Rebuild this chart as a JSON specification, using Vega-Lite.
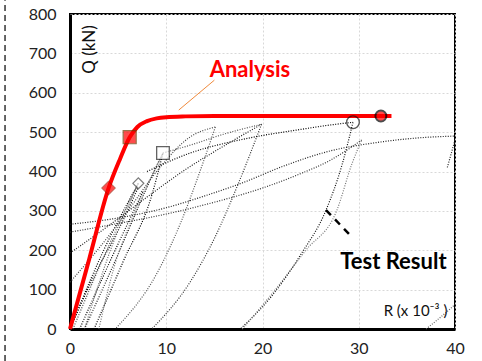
{
  "$schema": "https://vega.github.io/schema/vega-lite/v6.json",
  "autosize": "none",
  "width": 385,
  "height": 315,
  "padding": {"left": 70, "top": 14, "right": 27, "bottom": 32},
  "background": "white",
  "config": {
    "view": {"stroke": "black", "strokeWidth": 2},
    "font": "Lato"
  },
  "datasets": {
    "analysis": [
      {"x": 0, "y": 0}, {"x": 2, "y": 178}, {"x": 4, "y": 357}, {"x": 5.2, "y": 432}, {"x": 6.2, "y": 487},
      {"x": 7, "y": 513}, {"x": 8, "y": 528}, {"x": 9, "y": 535}, {"x": 10, "y": 538}, {"x": 12, "y": 540},
      {"x": 15, "y": 541}, {"x": 20, "y": 541}, {"x": 33.4, "y": 541}
    ],
    "tests": [
      {"s": "L1", "i": 0, "x": 0, "y": 0}, {"s": "L1", "i": 1, "x": 3.5, "y": 200}, {"s": "L1", "i": 2, "x": 7.1, "y": 370},
      {"s": "L2", "i": 0, "x": 0.3, "y": 0}, {"s": "L2", "i": 1, "x": 4, "y": 210}, {"s": "L2", "i": 2, "x": 7.1, "y": 370},
      {"s": "L3", "i": 0, "x": 0, "y": 0}, {"s": "L3", "i": 1, "x": 2.6, "y": 140}, {"s": "L3", "i": 2, "x": 5, "y": 250}, {"s": "L3", "i": 3, "x": 7.1, "y": 360},
      {"s": "L4", "i": 0, "x": 7.1, "y": 370}, {"s": "L4", "i": 1, "x": 4.2, "y": 200}, {"s": "L4", "i": 2, "x": 1.5, "y": 0},
      {"s": "L5", "i": 0, "x": 1, "y": 0}, {"s": "L5", "i": 1, "x": 4.5, "y": 190}, {"s": "L5", "i": 2, "x": 7.6, "y": 350},
      {"s": "L6", "i": 0, "x": 1.5, "y": 0}, {"s": "L6", "i": 1, "x": 5, "y": 190}, {"s": "L6", "i": 2, "x": 8, "y": 360}, {"s": "L6", "i": 3, "x": 9.66, "y": 447},
      {"s": "L7", "i": 0, "x": 9.66, "y": 447}, {"s": "L7", "i": 1, "x": 7, "y": 310}, {"s": "L7", "i": 2, "x": 4.5, "y": 150}, {"s": "L7", "i": 3, "x": 3, "y": 0},
      {"s": "L8", "i": 0, "x": 2.5, "y": 0}, {"s": "L8", "i": 1, "x": 5.5, "y": 170}, {"s": "L8", "i": 2, "x": 8.5, "y": 340}, {"s": "L8", "i": 3, "x": 9.66, "y": 447},
      {"s": "L9", "i": 0, "x": 0, "y": 119}, {"s": "L9", "i": 1, "x": 3, "y": 205}, {"s": "L9", "i": 2, "x": 6, "y": 300}, {"s": "L9", "i": 3, "x": 9, "y": 400}, {"s": "L9", "i": 4, "x": 12.5, "y": 488}, {"s": "L9", "i": 5, "x": 15.1, "y": 513},
      {"s": "L10", "i": 0, "x": 15.1, "y": 513}, {"s": "L10", "i": 1, "x": 13.5, "y": 400}, {"s": "L10", "i": 2, "x": 11.5, "y": 270}, {"s": "L10", "i": 3, "x": 9, "y": 140}, {"s": "L10", "i": 4, "x": 4.7, "y": 0},
      {"s": "L11", "i": 0, "x": 0, "y": 193}, {"s": "L11", "i": 1, "x": 4, "y": 262}, {"s": "L11", "i": 2, "x": 8, "y": 335}, {"s": "L11", "i": 3, "x": 12, "y": 405}, {"s": "L11", "i": 4, "x": 16, "y": 465}, {"s": "L11", "i": 5, "x": 19.9, "y": 520},
      {"s": "L12", "i": 0, "x": 19.9, "y": 520}, {"s": "L12", "i": 1, "x": 17.5, "y": 370}, {"s": "L12", "i": 2, "x": 15, "y": 230}, {"s": "L12", "i": 3, "x": 12.5, "y": 120}, {"s": "L12", "i": 4, "x": 8.5, "y": 0},
      {"s": "L13", "i": 0, "x": 9.66, "y": 447}, {"s": "L13", "i": 1, "x": 12.5, "y": 467}, {"s": "L13", "i": 2, "x": 16, "y": 495}, {"s": "L13", "i": 3, "x": 19.9, "y": 520},
      {"s": "L14", "i": 0, "x": 8, "y": 400}, {"s": "L14", "i": 1, "x": 12.5, "y": 447}, {"s": "L14", "i": 2, "x": 18, "y": 482}, {"s": "L14", "i": 3, "x": 24, "y": 507}, {"s": "L14", "i": 4, "x": 27, "y": 518}, {"s": "L14", "i": 5, "x": 29.4, "y": 525},
      {"s": "L15", "i": 0, "x": 29.4, "y": 525}, {"s": "L15", "i": 1, "x": 28.3, "y": 420}, {"s": "L15", "i": 2, "x": 26.6, "y": 302}, {"s": "L15", "i": 3, "x": 24, "y": 190}, {"s": "L15", "i": 4, "x": 21, "y": 85}, {"s": "L15", "i": 5, "x": 17.7, "y": 0},
      {"s": "L16", "i": 0, "x": 17.9, "y": 0}, {"s": "L16", "i": 1, "x": 21, "y": 90}, {"s": "L16", "i": 2, "x": 24.5, "y": 200}, {"s": "L16", "i": 3, "x": 27.7, "y": 300}, {"s": "L16", "i": 4, "x": 29.3, "y": 420}, {"s": "L16", "i": 5, "x": 30.3, "y": 480},
      {"s": "L17", "i": 0, "x": 0, "y": 246}, {"s": "L17", "i": 1, "x": 5, "y": 268}, {"s": "L17", "i": 2, "x": 10, "y": 292}, {"s": "L17", "i": 3, "x": 15, "y": 322}, {"s": "L17", "i": 4, "x": 20, "y": 358}, {"s": "L17", "i": 5, "x": 24, "y": 395}, {"s": "L17", "i": 6, "x": 27, "y": 428}, {"s": "L17", "i": 7, "x": 29, "y": 458}, {"s": "L17", "i": 8, "x": 30.3, "y": 480},
      {"s": "L18", "i": 0, "x": 0, "y": 266}, {"s": "L18", "i": 1, "x": 5, "y": 282}, {"s": "L18", "i": 2, "x": 10, "y": 308}, {"s": "L18", "i": 3, "x": 14, "y": 338}, {"s": "L18", "i": 4, "x": 18, "y": 372}, {"s": "L18", "i": 5, "x": 22, "y": 412}, {"s": "L18", "i": 6, "x": 27, "y": 452}, {"s": "L18", "i": 7, "x": 32, "y": 474}, {"s": "L18", "i": 8, "x": 36, "y": 485}, {"s": "L18", "i": 9, "x": 40, "y": 490},
      {"s": "L19", "i": 0, "x": 37, "y": 0}, {"s": "L19", "i": 1, "x": 38.5, "y": 30}, {"s": "L19", "i": 2, "x": 40, "y": 62},
      {"s": "L20", "i": 0, "x": 40, "y": 480}, {"s": "L20", "i": 1, "x": 39.2, "y": 410}
    ],
    "points": [
      {"name": "a1", "x": 4, "y": 358},
      {"name": "a2", "x": 6.2, "y": 487},
      {"name": "a3", "x": 32.3, "y": 541},
      {"name": "t1", "x": 7.1, "y": 370},
      {"name": "t2", "x": 9.66, "y": 447},
      {"name": "t3", "x": 29.4, "y": 525}
    ],
    "texts": [
      {"name": "analysis", "t": "Analysis", "x": 18.7, "y": 657},
      {"name": "test", "t": "Test Result", "x": 33.6, "y": 170},
      {"name": "q", "t": "Q (kN)", "x": 2.1, "y": 710},
      {"name": "r", "t": "R (x 10⁻³ )", "x": 35.9, "y": 46}
    ],
    "leaders": [
      {"name": "analysis", "i": 0, "x": 11.3, "y": 556}, {"name": "analysis", "i": 1, "x": 15.0, "y": 632},
      {"name": "test", "i": 0, "x": 26.6, "y": 302}, {"name": "test", "i": 1, "x": 29.2, "y": 236}
    ],
    "frame": [{"x": -6.75, "y": -81, "y2": 835}]
  },
  "encoding": {
    "x": {"field": "x", "type": "quantitative", "scale": {"domain": [0, 40], "nice": false},
      "axis": {"values": [0, 10, 20, 30, 40], "grid": true, "gridColor": "#d8d8d8", "gridDash": [2, 2], "ticks": false,
        "domainColor": "black", "domainWidth": 3, "labelFont": "Lato", "labelFontSize": 16, "labelColor": "#222",
        "labelPadding": 11, "title": null, "labelFlush": false, "labelOverlap": false}},
    "y": {"field": "y", "type": "quantitative", "scale": {"domain": [0, 800], "nice": false},
      "axis": {"values": [0, 100, 200, 300, 400, 500, 600, 700, 800], "grid": true, "gridColor": "#d8d8d8", "gridDash": [2, 2], "ticks": false,
        "domainColor": "black", "domainWidth": 3, "labelFont": "Lato", "labelFontSize": 16, "labelColor": "#222",
        "labelPadding": 14, "title": null, "labelOverlap": false}}
  },
  "layer": [
    {
      "data": {"name": "tests"},
      "mark": {"type": "line", "interpolate": "monotone", "strokeDash": [1, 1.5], "strokeWidth": 1.2},
      "encoding": {
        "detail": {"field": "s"},
        "order": {"field": "i", "type": "quantitative"},
        "color": {"field": "s", "type": "nominal", "legend": null,
          "scale": {"domain": ["L1","L2","L3","L4","L5","L6","L7","L8","L9","L10","L11","L12","L13","L14","L15","L16","L17","L18","L19","L20"],
            "range": ["#000","#444","#000","#666","#000","#222","#777","#000","#444","#555","#222","#333","#555","#000","#111","#777","#333","#222","#666","#222"]}}
      }
    },
    {
      "data": {"name": "analysis"},
      "mark": {"type": "line", "interpolate": "monotone", "color": "#ff0000", "strokeWidth": 4},
      "encoding": {}
    },
    {
      "data": {"name": "leaders"},
      "transform": [{"filter": "datum.name == 'analysis'"}],
      "mark": {"type": "line", "color": "#f08a3c", "strokeWidth": 1},
      "encoding": {"order": {"field": "i"}}
    },
    {
      "data": {"name": "leaders"},
      "transform": [{"filter": "datum.name == 'test'"}],
      "mark": {"type": "line", "color": "black", "strokeWidth": 2.5, "strokeDash": [7, 6]},
      "encoding": {"order": {"field": "i"}}
    },
    {
      "data": {"name": "points"},
      "transform": [{"filter": "datum.name == 't1'"}],
      "mark": {"type": "point", "shape": "diamond", "filled": true, "fill": "white", "stroke": "#444", "strokeWidth": 1.2, "size": 120}
    },
    {
      "data": {"name": "points"},
      "transform": [{"filter": "datum.name == 't2'"}],
      "mark": {"type": "point", "shape": "square", "filled": true, "fill": "white", "stroke": "#222", "strokeWidth": 1.3, "size": 160}
    },
    {
      "data": {"name": "points"},
      "transform": [{"filter": "datum.name == 't3'"}],
      "mark": {"type": "point", "shape": "circle", "filled": false, "stroke": "#111", "strokeWidth": 1.3, "size": 160}
    },
    {
      "data": {"name": "points"},
      "transform": [{"filter": "datum.name == 'a1'"}],
      "mark": {"type": "point", "shape": "diamond", "filled": true, "fill": "#ff0000", "stroke": "#8b1a00", "strokeWidth": 1, "size": 190}
    },
    {
      "data": {"name": "points"},
      "transform": [{"filter": "datum.name == 'a2'"}],
      "mark": {"type": "point", "shape": "square", "filled": true, "fill": "#ff0000", "stroke": "#6b3a00", "strokeWidth": 1.2, "size": 170}
    },
    {
      "data": {"name": "points"},
      "transform": [{"filter": "datum.name == 'a3'"}],
      "mark": {"type": "point", "shape": "circle", "filled": true, "fill": "#ff0000", "stroke": "black", "strokeWidth": 2, "size": 120}
    },
    {
      "data": {"name": "texts"},
      "transform": [{"filter": "datum.name == 'analysis'"}],
      "mark": {"type": "text", "font": "Lato", "fontWeight": "bold", "fontSize": 22, "color": "#ff0000", "align": "center", "baseline": "middle"},
      "encoding": {"text": {"field": "t"}}
    },
    {
      "data": {"name": "texts"},
      "transform": [{"filter": "datum.name == 'test'"}],
      "mark": {"type": "text", "font": "Lato", "fontWeight": "bold", "fontSize": 22, "color": "black", "align": "center", "baseline": "middle"},
      "encoding": {"text": {"field": "t"}}
    },
    {
      "data": {"name": "texts"},
      "transform": [{"filter": "datum.name == 'q'"}],
      "mark": {"type": "text", "font": "Lato", "fontSize": 17, "color": "#111", "align": "center", "baseline": "middle", "angle": 270},
      "encoding": {"text": {"field": "t"}}
    },
    {
      "data": {"name": "texts"},
      "transform": [{"filter": "datum.name == 'r'"}],
      "mark": {"type": "text", "font": "Lato", "fontSize": 15, "color": "#111", "align": "center", "baseline": "middle"},
      "encoding": {"text": {"field": "t"}}
    },
    {
      "data": {"name": "frame"},
      "mark": {"type": "rule", "clip": false, "strokeDash": [6, 4], "strokeWidth": 1.5, "color": "#333"},
      "encoding": {"y2": {"field": "y2"}}
    }
  ]
}
